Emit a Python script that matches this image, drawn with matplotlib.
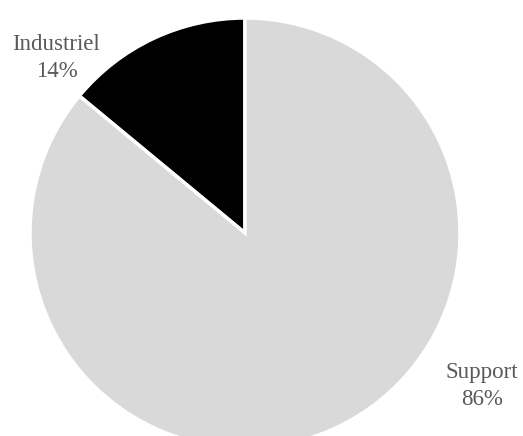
import matplotlib
matplotlib.use('Agg')
import matplotlib.pyplot as plt

# Share of the two categories
categories = ['Industriel', 'Support']
shares = [14, 86]
slice_colors = ['#000000', '#D9D9D9']

fig = plt.figure(figsize=(5.23, 4.36), dpi=100)
ax = fig.add_axes([0, 0, 1, 1])

ax.pie(shares, colors=slice_colors, startangle=90, counterclock=True,
       radius=1.0, wedgeprops=dict(edgecolor='white', linewidth=2.5))

# Pie is partly cut at the bottom in the reference
ax.set_xlim(-245 / 215, (523 - 245) / 215)
ax.set_ylim(-203 / 215, 233 / 215)
ax.set_aspect('equal')
ax.axis('off')

label_pos = {'Industriel': (-0.877, 0.814), 'Support': (1.102, -0.712)}
for name, val in zip(categories, shares):
    x, y = label_pos[name]
    ax.text(x, y, f'{name}\n{val}%', ha='center', va='center',
            fontsize=16.5, color='#595959', family='Liberation Serif',
            linespacing=1.35)

fig.savefig('out.png', dpi=100)
